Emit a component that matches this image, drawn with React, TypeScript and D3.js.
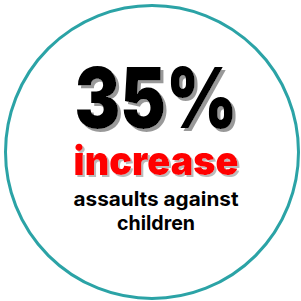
import React, { useEffect, useRef } from 'react';
import * as d3 from 'd3';

// chart content
const headline = ['35%'];
const change = ['increase'];
const captionLines = ['assaults against', 'children'];

const W = 301;
const H = 301;

export default function App() {
  const ref = useRef<SVGSVGElement>(null);

  useEffect(() => {
    const svg = d3.select(ref.current);
    svg.selectAll('*').remove();

    const cx = 152;
    const cy = 152;
    const r = 146.5;

    // drop shadows
    const defs = svg.append('defs');
    const addShadow = (id: string, off: number, color: string) => {
      defs
        .append('filter')
        .attr('id', id)
        .attr('x', '-10%')
        .attr('y', '-10%')
        .attr('width', '130%')
        .attr('height', '130%')
        .append('feDropShadow')
        .attr('dx', off)
        .attr('dy', off)
        .attr('stdDeviation', 0.6)
        .attr('flood-color', color)
        .attr('flood-opacity', 1);
    };
    addShadow('shadowBig', 3, '#999');
    addShadow('shadowMid', 2, '#bbb');

    // outer ring
    svg
      .append('circle')
      .attr('cx', cx)
      .attr('cy', cy)
      .attr('r', r)
      .attr('fill', '#fff')
      .attr('stroke', '#2ba3a6')
      .attr('stroke-width', 3);

    const font = "Inter, 'Liberation Sans', Arial, sans-serif";
    const tx = 156;

    const addText = (
      txt: string,
      y: number,
      size: number,
      weight: number,
      fill: string,
      width: number,
      filter?: string
    ) => {
      const t = svg
        .append('text')
        .attr('x', tx)
        .attr('y', y)
        .attr('text-anchor', 'middle')
        .attr('font-family', font)
        .attr('font-weight', weight)
        .attr('font-size', size)
        .attr('textLength', width)
        .attr('lengthAdjust', 'spacingAndGlyphs')
        .attr('fill', fill)
        .text(txt);
      if (filter) t.attr('filter', `url(#${filter})`);
    };

    addText(headline[0], 128, 84, 900, '#000', 163, 'shadowBig');
    addText(change[0], 175, 41, 900, '#ff0000', 165, 'shadowMid');

    captionLines.forEach((t, i) => {
      addText(t, 206 + i * 24, 20, 700, '#000', i === 0 ? 165 : 78);
    });
  }, []);

  return (
    <svg
      ref={ref}
      width={W}
      height={H}
      style={{ position: 'absolute', left: 0, top: 0, background: '#fff' }}
    />
  );
}
